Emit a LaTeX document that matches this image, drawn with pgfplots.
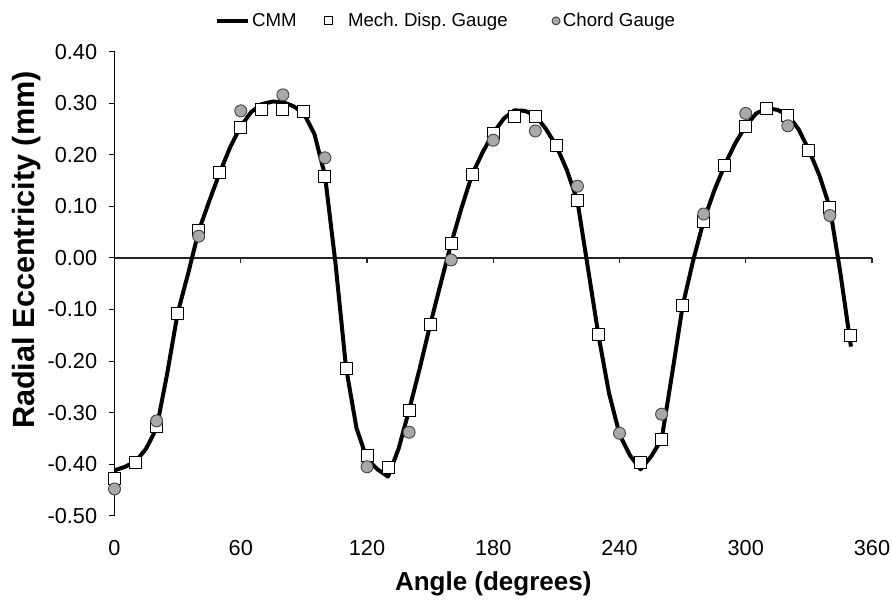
\documentclass[border=0pt]{standalone}
\usepackage{fontspec}
\setmainfont{Liberation Sans}
\usepackage{pgfplots}
\pgfplotsset{compat=1.18}
\definecolor{chordfill}{RGB}{168,168,168}
\definecolor{chordedge}{RGB}{70,70,70}
\begin{document}
\frenchspacing
\begin{tikzpicture}
\useasboundingbox (-85.9pt,-64.65pt) rectangle (583.1pt,386.85pt);
\begin{axis}[
  at={(0,0)}, anchor=south west,
  scale only axis, width=568.1pt, height=348.2pt,
  xmin=0, xmax=360, ymin=-0.5, ymax=0.4,
  clip=false,
  axis y line*=left, axis x line*=bottom,
  x axis line style={draw=none},
  y axis line style={black, line width=0.8pt},
  xtick={0,60,120,180,240,300,360},
  ytick={-0.5,-0.4,-0.3,-0.2,-0.1,0,0.1,0.2,0.3,0.4},
  tick align=outside,
  major tick length=4.5pt,
  xtick style={draw=none},
  ytick style={draw=black, line width=0.8pt},
  tick label style={font=\fontsize{16.3}{19}\selectfont},
  /pgf/number format/assume math mode=true,
  yticklabel style={xshift=-5pt, /pgf/number format/.cd, fixed, fixed zerofill, precision=2},
  xticklabel style={yshift=-10.5pt, /pgf/number format/.cd, fixed, precision=0},
  xlabel={Angle (degrees)},
  ylabel={Radial Eccentricity (mm)},
  xlabel style={font=\bfseries\fontsize{19.5}{22}\selectfont, at={(axis description cs:0.5,-0.147)}, anchor=center},
  ylabel style={font=\bfseries\fontsize{23}{26}\selectfont, at={(axis description cs:-0.1155,0.5725)}, anchor=center},
  legend style={at={(0.438,1.066)}, anchor=center, draw=none, fill=none, legend columns=3,
    font=\fontsize{14}{16}\selectfont,
    /tikz/every even column/.append style={column sep=13pt}},
]
\draw[line width=1pt, black!85] (axis cs:0,0) -- (axis cs:360,0);
\pgfplotsinvokeforeach{60,120,180,240,300,360}{\draw[line width=0.8pt, black!85] (axis cs:#1,0) -- ([yshift=-3.75pt]axis cs:#1,0);}
\addplot[black, line width=3pt, no markers, line join=round,
  legend image code/.code={\draw[black,line width=3pt] (0cm,0cm) -- (23pt,0cm);}]
table {
x y
0 -0.412
5 -0.405
10 -0.395
15 -0.37
20 -0.33
25 -0.225
30 -0.107
35 -0.03
40 0.052
45 0.11
50 0.165
55 0.215
60 0.255
65 0.283
70 0.298
75 0.303
80 0.302
85 0.294
90 0.28
95 0.24
100 0.16
105 -0.01
110 -0.212
115 -0.33
120 -0.39
125 -0.41
130 -0.424
135 -0.37
140 -0.295
145 -0.215
150 -0.13
155 -0.05
160 0.028
165 0.098
170 0.162
175 0.205
180 0.242
185 0.27
190 0.286
195 0.285
200 0.276
205 0.25
210 0.217
215 0.17
220 0.11
225 -0.02
230 -0.15
235 -0.262
240 -0.342
245 -0.383
250 -0.41
255 -0.385
260 -0.352
265 -0.225
270 -0.093
275 -0.005
280 0.072
285 0.13
290 0.18
295 0.222
300 0.256
305 0.28
310 0.29
315 0.287
320 0.277
325 0.25
330 0.209
335 0.16
340 0.097
345 -0.03
350 -0.172
};
\addlegendentry{CMM}
\addplot[only marks, mark=square*, mark size=4.5pt, mark options={fill=white, draw=black, line width=0.7pt},
  legend image code/.code={\path (0pt,0pt) (21pt,0pt); \draw[mark=square*, mark size=3pt, mark options={fill=white,draw=black,line width=0.7pt}] plot coordinates {(8.5pt,0pt)};}]
table {
x y
0 -0.428
10 -0.396
20 -0.327
30 -0.107
40 0.053
50 0.165
60 0.253
70 0.287
80 0.287
90 0.283
100 0.158
110 -0.215
120 -0.383
130 -0.407
140 -0.295
150 -0.129
160 0.027
170 0.162
180 0.241
190 0.275
200 0.274
210 0.218
220 0.112
230 -0.149
250 -0.396
260 -0.353
270 -0.093
280 0.071
290 0.179
300 0.255
310 0.290
320 0.277
330 0.209
340 0.097
350 -0.151
};
\addlegendentry{Mech.\ Disp.\ Gauge}
\addplot[only marks, mark=*, mark size=4.5pt, mark options={fill=chordfill, draw=chordedge, line width=0.7pt},
  legend image code/.code={\path (0pt,0pt) (24pt,0pt); \draw[mark=*, mark size=3pt, mark options={fill=chordfill,draw=chordedge,line width=0.7pt}] plot coordinates {(21pt,0pt)};}]
table {
x y
0 -0.448
20 -0.316
40 0.042
60 0.285
80 0.316
100 0.194
120 -0.405
140 -0.338
160 -0.004
180 0.228
200 0.246
220 0.139
240 -0.340
260 -0.303
280 0.085
300 0.280
320 0.256
340 0.082
};
\addlegendentry{Chord Gauge}
\end{axis}
\end{tikzpicture}
\end{document}
